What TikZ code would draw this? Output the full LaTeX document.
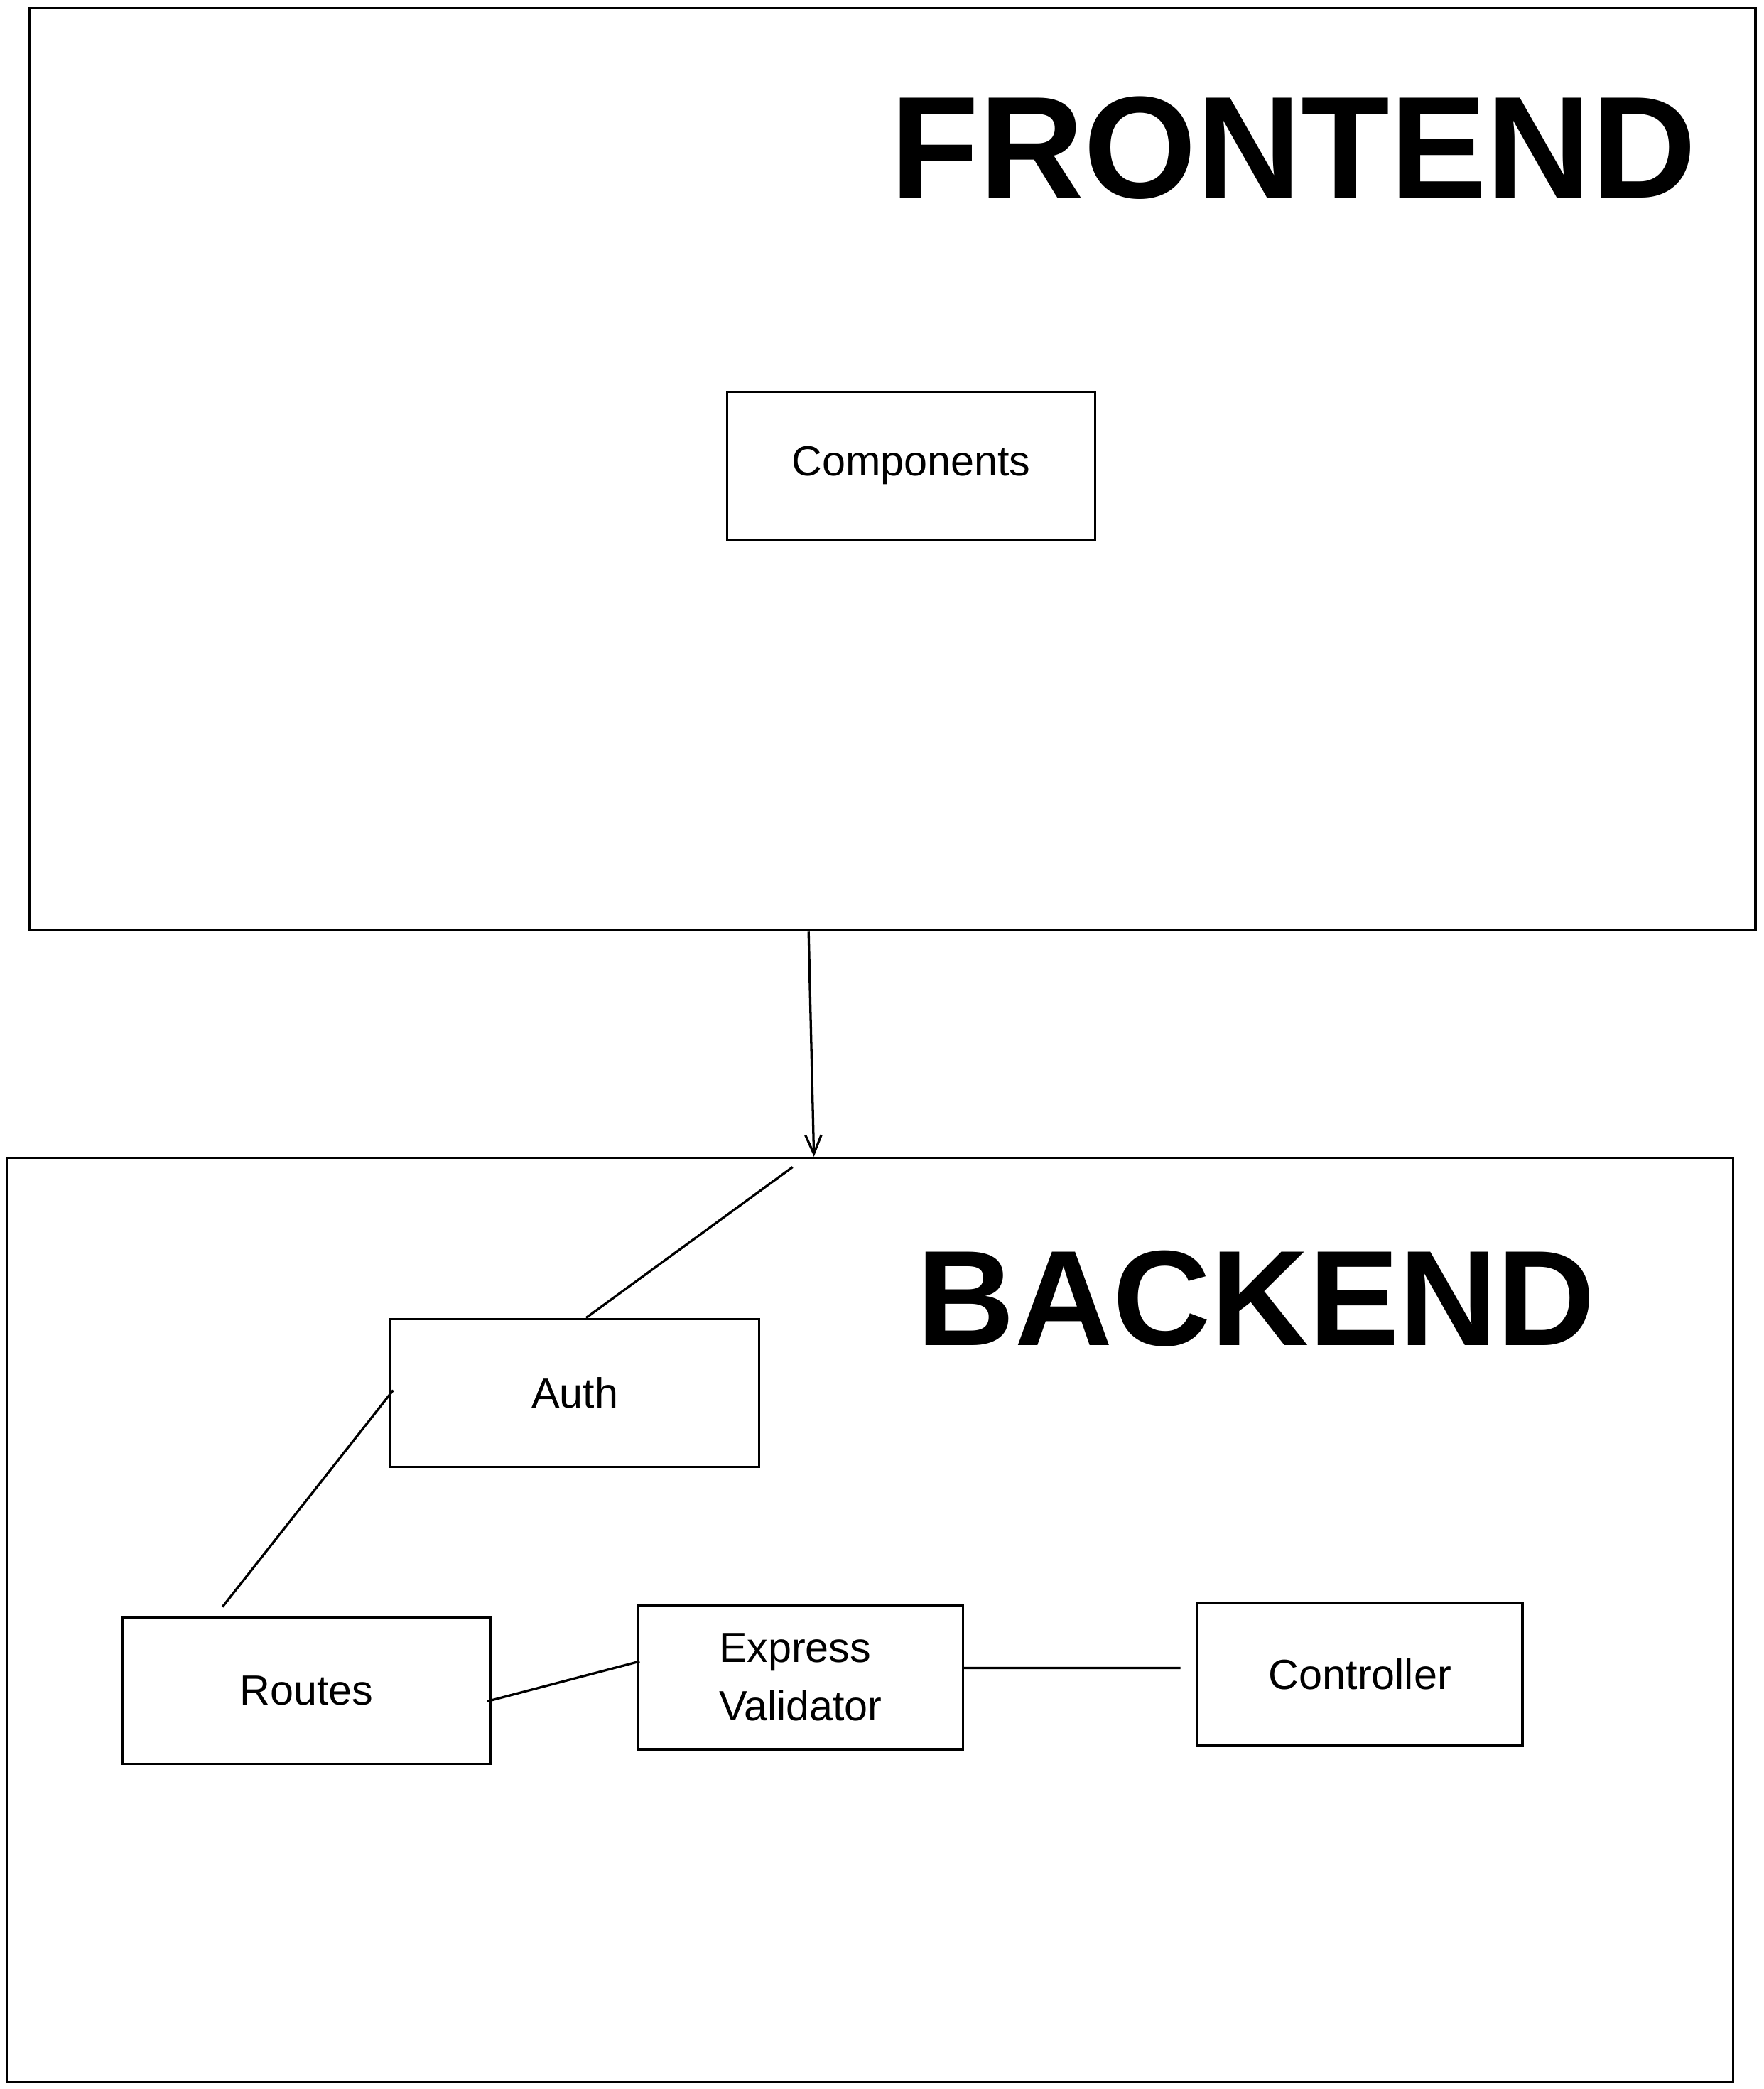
\documentclass[tikz,border=0pt]{standalone}
\usepackage{fontspec}
\setmainfont{Liberation Sans}
\usetikzlibrary{arrows.meta}

\begin{document}
\begin{tikzpicture}[x=0.02cm, y=-0.02cm, line width=1pt,
    box/.style={draw, rectangle, inner sep=0pt, font=\fontsize{18}{25}\selectfont},
    layer/.style={draw, rectangle, inner sep=0pt, minimum width=25.92cm},
    title/.style={font=\fontsize{62}{70}\selectfont\bfseries},
    arrow/.style={-{Straight Barb[length=2.8mm,width=2.4mm]}}]
    \useasboundingbox (0,0) rectangle (1324,1568);
    % layers
    \node[layer, minimum height=13.84cm] (frontend) at (670,352) {};
    \node[layer, minimum height=13.88cm] (backend) at (653,1216) {};
    \node[title] (fetitle) at (971,111) {FRONTEND};
    \node[title, font=\fontsize{58}{66}\selectfont\bfseries] (betitle) at (943,975) {BACKEND};
    % boxes
    \node[box, minimum width=5.52cm, minimum height=2.22cm] (components) at (684,349.5) {Components};
    \node[box, minimum width=5.54cm, minimum height=2.22cm] (auth) at (431.5,1045.5) {Auth};
    \node[box, minimum width=5.52cm, minimum height=2.2cm] (routes) at (230,1269) {Routes};
    \node[box, minimum width=4.88cm, minimum height=2.16cm, align=left] (validator) at (601,1259) {Express\\Validator};
    \node[box, minimum width=4.88cm, minimum height=2.14cm] (controller) at (1021,1256.5) {Controller};
    % connectors
    \coordinate (entry) at (595,876);
    \draw[arrow] ([xshift=-1.26cm]frontend.south) -- ([xshift=-0.84cm]backend.north);
    \draw (entry) -- ([xshift=0.17cm]auth.north);
    \draw ([xshift=0.06cm,yshift=0.04cm]auth.west) -- ([xshift=-1.26cm,yshift=0.14cm]routes.north);
    \draw ([xshift=-0.06cm,yshift=-0.16cm]routes.east) -- ([xshift=0.04cm,yshift=0.24cm]validator.west);
    \draw ([yshift=0.14cm]validator.east) -- ([xshift=-0.24cm,yshift=0.09cm]controller.west);
\end{tikzpicture}
\end{document}
